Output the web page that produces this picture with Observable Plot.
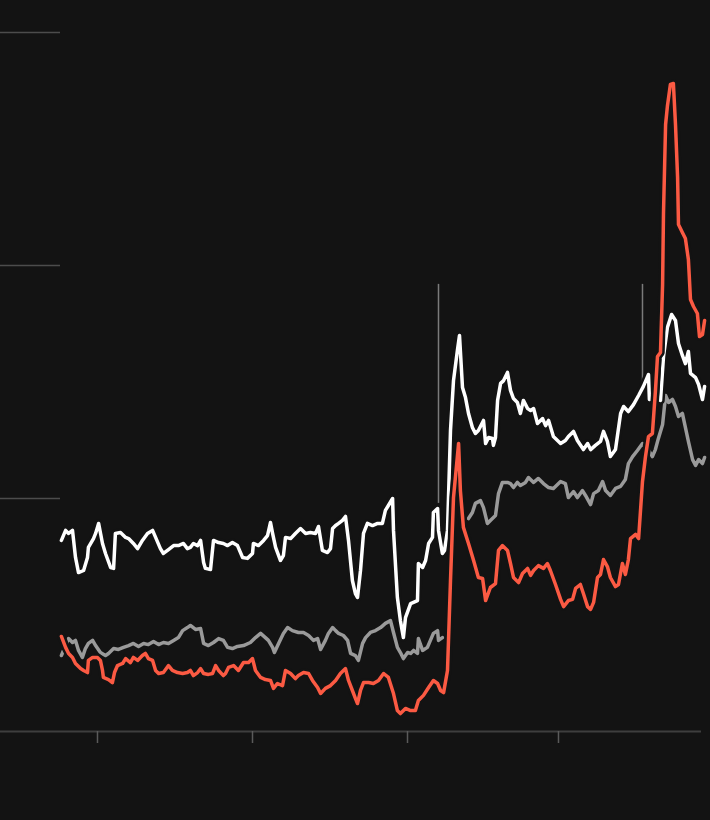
<!DOCTYPE html>
<html>
<head>
<meta charset="utf-8">
<script src="https://cdn.jsdelivr.net/npm/d3@7"></script>
<script src="https://cdn.jsdelivr.net/npm/@observablehq/plot@0.6"></script>
<style>
  html, body { margin: 0; padding: 0; background: #131313; }
  #chart svg { display: block; }
</style>
</head>
<body>
<div id="chart"></div>
<script>
// x = week index since start of series, y = index value (grid at 100, 200, 300)
const xTicks = [12.33, 64, 115.67, 166];
const yTicks = [0, 100, 200, 300];

const whiteSeries = [
  [0.3,82.0],[1.7,86.3],[2.7,85.0],[4.0,86.3],[5.0,74.7],[6.0,68.2],[7.7,69.1],[9.0,74.7],[9.3,79.0],
  [11.0,82.8],[11.7,85.0],[12.7,89.3],[14.0,80.7],[15.0,76.4],[16.7,70.4],[17.7,70.0],[18.3,85.0],
  [20.0,85.4],[21.7,83.3],[22.7,82.8],[24.3,80.7],[25.7,78.5],[27.3,82.0],[29.0,85.0],[30.7,86.3],
  [31.7,83.3],[33.3,78.5],[34.3,76.4],[36.0,78.1],[37.7,79.8],[39.3,79.8],[41.0,80.7],[42.3,78.5],
  [43.3,79.0],[44.3,80.7],[45.7,79.8],[46.7,82.0],[47.7,72.5],[48.3,70.0],[50.0,69.5],[51.0,82.0],
  [52.7,81.1],[54.3,80.7],[55.7,79.8],[57.3,81.1],[59.0,79.8],[60.7,74.7],[62.3,74.3],[64.0,76.4],
  [64.3,80.7],[66.0,79.8],[67.7,82.0],[69.0,84.1],[70.0,89.7],[70.7,85.0],[71.7,79.0],[73.3,73.4],
  [74.3,75.5],[75.0,83.3],[76.7,82.8],[78.3,85.0],[80.0,87.1],[81.7,85.0],[83.3,85.4],[85.0,85.0],
  [86.0,88.0],[87.3,77.7],[89.0,76.8],[90.0,78.5],[90.7,87.1],[91.7,88.4],[92.7,89.3],[94.0,90.6],
  [95.0,92.3],[96.0,82.0],[97.3,64.8],[98.3,59.2],[99.0,57.5],[100.0,69.1],[101.0,85.0],[102.3,89.3],
  [104.0,88.4],[105.7,89.3],[107.3,89.3],[108.3,94.9],[109.3,97.0],[110.7,100.0],[111.0,86.3],
  [112.3,57.5],[113.3,47.6],[114.3,40.3],[115.0,48.9],[116.7,54.9],[119.0,56.2],[119.3,72.1],
  [120.7,70.4],[121.7,73.4],[122.7,80.7],[124.0,83.3],[124.3,94.0],[125.7,95.7],[126.0,86.3],
  [127.3,76.4],[128.0,77.7],[129.0,86.3],[130.0,129.2],[131.0,150.6],[132.3,163.5],[133.0,170.0],
  [134.0,147.6],[135.0,143.3],[136.0,136.5],[137.3,130.5],[138.3,127.9],[139.3,129.2],[141.0,133.5],
  [141.7,123.6],[142.7,126.2],[144.0,125.8],[144.3,122.8],[145.0,126.2],[145.7,142.1],[146.7,149.4],
  [147.7,150.6],[149.0,154.1],[150.0,146.4],[151.0,142.9],[152.3,141.2],[153.3,136.5],[154.3,142.1],
  [155.7,138.6],[156.7,137.8],[157.7,138.6],[159.0,132.2],[160.7,134.3],[161.7,131.3],[162.7,133.5],
  [164.0,127.9],[164.3,126.6],[166.7,123.6],[168.3,124.9],[169.3,126.6],[171.0,128.8],[172.3,124.9],
  [174.3,121.0],[175.7,123.6],[176.7,121.0],[178.3,122.8],[180.0,124.5],[181.0,128.8],[182.3,124.5],
  [183.3,118.0],[185.0,121.0],[186.7,136.5],[187.7,139.5],[189.3,137.3],[191.0,140.3],[192.7,144.2],
  [194.3,148.1],[196.0,153.2],[196.3,142.5],[197.7,142.9],[200.0,142.1],[201.0,160.9],[202.3,173.4],
  [203.7,179.0],[205.0,176.4],[206.0,166.5],[207.3,161.4],[208.3,157.9],[209.3,163.1],[210.0,153.7],
  [211.7,151.9],[212.7,148.9],[214.0,142.5],[214.7,148.1]
];

const graySeries = [
  [0.3,32.6],[2.7,39.9],[4.0,38.2],[5.0,39.1],[6.0,34.8],[7.3,31.8],[8.3,35.6],[9.3,37.8],[10.7,39.1],
  [11.7,36.9],[13.3,33.9],[15.0,32.6],[16.0,33.5],[17.7,35.6],[19.3,35.2],[21.0,36.1],[22.7,36.9],
  [24.3,37.8],[26.0,36.5],[27.7,37.8],[29.3,37.3],[31.0,38.6],[32.7,37.3],[34.3,38.2],[36.0,37.8],
  [37.7,39.1],[39.3,40.3],[40.7,43.3],[42.3,44.6],[43.3,45.5],[45.0,43.8],[46.7,44.2],[47.7,37.8],
  [49.3,36.9],[51.0,38.2],[52.7,39.9],[54.3,39.1],[55.7,36.1],[57.3,35.6],[59.0,36.5],[61.0,36.9],
  [63.3,38.2],[65.0,40.3],[66.7,42.1],[68.3,40.3],[69.3,39.1],[70.7,36.1],[71.3,33.9],[72.7,37.8],
  [74.3,42.1],[75.7,44.6],[77.3,43.3],[79.3,42.5],[81.0,42.5],[82.7,41.2],[84.3,39.1],[85.7,39.9],
  [86.7,35.2],[88.3,39.1],[89.3,42.1],[90.7,44.6],[91.7,43.3],[92.7,42.1],[94.3,41.2],[95.7,39.1],
  [96.7,33.5],[98.3,32.6],[99.3,30.5],[100.7,37.8],[101.7,40.3],[103.3,42.5],[105.0,43.3],[106.7,44.6],
  [108.3,46.4],[110.0,47.6],[111.0,42.5],[112.3,36.1],[113.3,33.9],[114.3,31.3],[115.7,33.9],
  [116.7,33.5],[117.7,34.8],[119.0,33.5],[119.3,39.9],[120.7,34.8],[122.3,36.1],[123.3,39.1],
  [124.3,42.1],[125.7,43.3],[126.0,39.1],[127.3,40.3],
  [131.0,null],
  [136.0,91.4],[137.3,94.0],[138.3,97.9],[140.0,99.1],[141.0,96.1],[142.3,89.3],[143.3,90.6],
  [145.0,92.7],[146.0,102.1],[147.3,106.9],[149.0,106.9],[150.0,106.4],[151.0,104.7],[152.3,106.9],
  [153.3,105.6],[155.0,106.9],[156.0,109.0],[157.7,106.9],[159.3,108.6],[161.0,106.4],[162.7,104.7],
  [164.3,104.3],[166.7,107.3],[168.3,106.4],[169.3,100.4],[171.0,103.0],[172.3,100.4],[174.0,103.4],
  [175.0,101.3],[176.7,97.4],[177.7,102.1],[179.3,103.4],[180.7,107.3],[181.7,103.4],[183.3,101.3],
  [185.0,104.3],[186.7,105.2],[188.3,108.2],[189.3,115.0],[190.7,118.0],[192.3,120.6],[194.0,123.6],
  [195.7,121.5],[197.3,118.0],[198.3,121.0],[199.3,125.8],[200.7,131.8],[201.7,144.2],[202.7,141.2],
  [204.0,142.5],[205.0,139.5],[206.0,135.2],[207.3,136.5],[208.3,130.5],[209.3,124.5],[210.7,116.7],
  [211.7,114.2],[212.7,116.7],[214.0,115.0],[214.7,117.6]
];

const redSeries = [
  [0.3,40.8],[1.7,36.1],[2.7,33.5],[4.0,31.8],[5.0,29.2],[6.7,27.0],[7.7,26.2],[9.0,25.3],[9.3,30.5],
  [10.7,31.8],[12.3,31.8],[13.3,30.5],[14.0,26.2],[14.3,23.2],[16.0,22.3],[17.3,21.0],[18.0,25.3],
  [19.0,28.3],[20.7,29.2],[21.7,31.3],[23.3,29.6],[24.3,31.8],[25.7,30.5],[27.3,32.6],[28.3,33.5],
  [29.3,31.3],[30.7,30.5],[31.7,26.2],[32.7,24.9],[34.3,25.3],[36.0,28.3],[37.3,26.2],[39.0,25.3],
  [40.7,24.9],[42.3,25.3],[43.3,26.2],[44.3,24.0],[45.7,25.3],[46.7,27.0],[47.7,24.9],[49.3,24.5],
  [50.7,24.9],[51.7,28.3],[52.7,26.2],[54.3,24.0],[55.0,24.9],[56.0,27.5],[57.7,28.3],[59.3,26.2],
  [61.0,29.6],[62.7,29.6],[64.0,31.3],[65.0,26.2],[66.7,23.2],[68.3,22.3],[70.0,21.9],[71.0,18.5],
  [72.3,20.6],[74.0,19.7],[75.0,26.2],[76.7,24.9],[78.3,22.7],[79.3,24.0],[81.0,25.3],[82.7,24.9],
  [84.0,21.9],[85.7,18.9],[86.7,16.3],[88.3,18.5],[90.0,19.7],[91.7,21.9],[93.3,24.9],[95.0,27.0],
  [96.0,21.9],[97.3,17.6],[98.3,14.2],[99.0,12.0],[100.0,17.6],[101.0,21.0],[102.7,21.0],[104.3,20.6],
  [106.0,21.9],[107.7,24.9],[109.3,23.2],[111.0,16.3],[112.3,9.0],[113.3,7.7],[115.0,9.9],[116.7,9.0],
  [118.3,9.0],[119.3,13.3],[121.0,15.5],[122.7,18.9],[124.3,21.9],[125.7,20.6],[126.7,17.6],
  [127.7,16.7],[129.0,26.2],[130.0,64.8],[131.0,100.4],[132.7,123.6],[133.3,103.4],[134.3,87.6],
  [136.0,80.7],[137.7,73.4],[139.3,66.1],[140.7,65.7],[141.7,56.2],[143.3,61.8],[145.0,63.5],
  [146.0,77.7],[147.3,79.8],[149.0,77.7],[150.0,72.1],[151.0,66.1],[152.7,63.9],[154.0,67.8],
  [155.7,70.0],[156.7,67.0],[157.7,69.1],[159.3,71.2],[161.0,70.0],[162.3,72.1],[163.3,69.1],
  [165.0,63.1],[166.7,56.7],[167.7,53.6],[169.3,56.2],[170.7,56.7],[171.7,61.4],[173.3,63.1],
  [174.3,59.2],[175.7,53.6],[176.7,52.4],[177.7,55.4],[179.0,66.1],[180.0,67.4],[181.0,73.8],
  [182.3,70.8],[183.3,66.1],[185.0,62.2],[186.0,63.1],[187.3,72.1],[188.3,67.4],[189.3,73.8],
  [190.0,82.8],[191.7,84.6],[192.7,82.8],[194.0,107.3],[195.0,118.0],[196.0,126.6],[197.3,127.9],
  [198.3,145.9],[199.0,160.9],[200.0,162.7],[200.7,191.9],[201.0,222.3],[201.7,260.5],[202.3,268.3],
  [203.3,277.7],[204.3,278.1],[205.0,260.5],[205.7,237.8],[206.0,217.6],[207.3,214.2],[208.3,211.6],
  [209.3,202.6],[210.0,185.4],[211.0,182.4],[212.3,179.4],[213.0,169.5],[214.0,170.4],[214.7,176.4]
];

// annotation leader lines (week, from value, to value)
const markerWeeks = [126.0, 194.0];
const markerFrom = [97.9, 149.4];
const markerTo = [191.9, 191.9];
const markers = markerWeeks.map((w, i) => ({x: w, y1: markerFrom[i], y2: markerTo[i]}));

const bg = "#131313";
const colWhite = "#ffffff";
const colGray = "#9a9a9a";
const colRed = "#fb5a43";

const X = d => d[0];
const Y = d => d[1];
const lw = 3.5;
const halo = 8.5;

const chart = Plot.plot({
  width: 710,
  height: 820,
  marginLeft: 60,
  marginRight: 9,
  marginTop: 32,
  marginBottom: 89,
  style: {background: bg, color: "#505050", overflow: "visible"},
  x: {domain: [0, 213.67], axis: null},
  y: {domain: [0, 300], axis: null},
  marks: [
    Plot.axisY({ticks: yTicks.filter(d => d > 0), tickSize: 60, tickFormat: () => "", label: null, stroke: "#4c4c4c", strokeWidth: 1.5}),
    Plot.ruleY([0], {stroke: "#3e3e3e", strokeWidth: 2, insetLeft: -60}),
    Plot.axisX({ticks: xTicks, tickSize: 12, tickFormat: () => "", label: null, stroke: "#5a5a5a", strokeWidth: 1.5}),
    Plot.ruleX(markers, {x: "x", y1: "y1", y2: "y2", stroke: "#7a7a7a", strokeWidth: 1.5}),
    Plot.line(graySeries, {x: X, y: Y, stroke: colGray, strokeWidth: lw, strokeLinejoin: "round", strokeLinecap: "round"}),
    Plot.line(whiteSeries, {x: X, y: Y, stroke: bg, strokeWidth: halo, strokeLinejoin: "round"}),
    Plot.line(whiteSeries, {x: X, y: Y, stroke: colWhite, strokeWidth: lw, strokeLinejoin: "round", strokeLinecap: "round"}),
    Plot.line(redSeries, {x: X, y: Y, stroke: bg, strokeWidth: halo, strokeLinejoin: "round"}),
    Plot.line(redSeries, {x: X, y: Y, stroke: colRed, strokeWidth: lw, strokeLinejoin: "round", strokeLinecap: "round"})
  ]
});

document.getElementById("chart").appendChild(chart);
</script>
</body>
</html>
